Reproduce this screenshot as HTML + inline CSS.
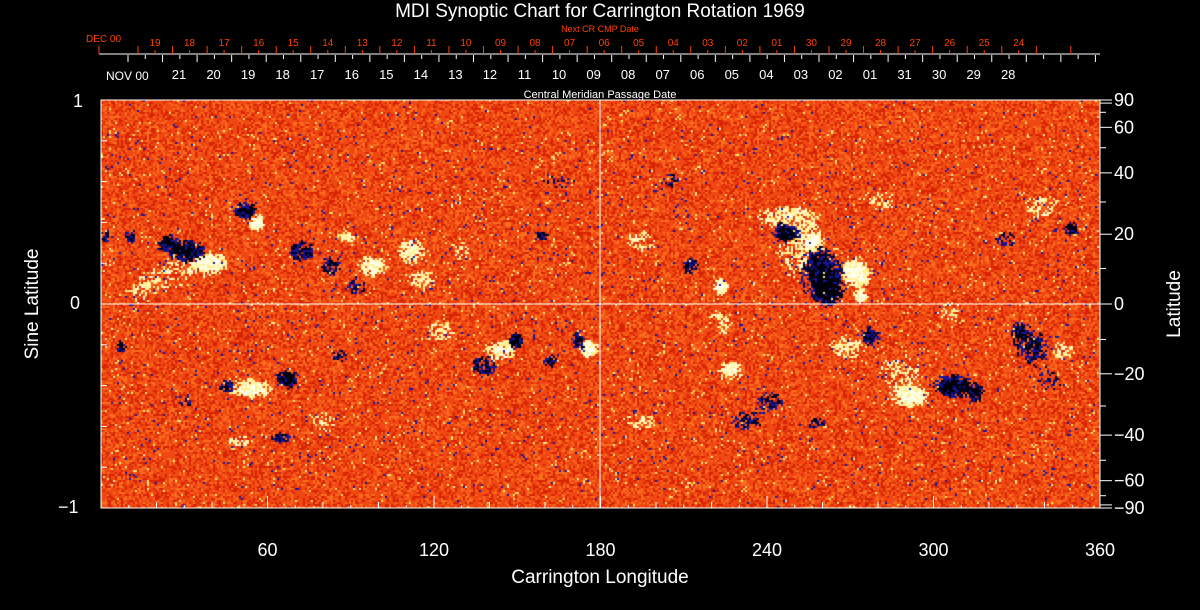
<!DOCTYPE html>
<html><head><style>
html,body{margin:0;padding:0;background:#000;}
svg{display:block;font-family:"Liberation Sans",sans-serif;position:absolute;left:0;top:0;}
canvas{position:absolute;left:101px;top:100px;}
</style></head><body>
<canvas id="c" width="999" height="408"></canvas>
<svg id="s" width="1200" height="610" xmlns="http://www.w3.org/2000/svg">
<g id="ax" stroke="#fff" fill="none" stroke-width="1"></g>
<g id="tx" fill="#fff" font-size="16"></g>
</svg>
<script>
const S="http://www.w3.org/2000/svg";
function el(p,t,a,txt){const e=document.createElementNS(S,t);for(const k in a)e.setAttribute(k,a[k]);if(txt!==undefined)e.textContent=txt;document.getElementById(p).appendChild(e);return e;}
let sd=12345;function r(){sd=(sd*1103515245+12345)%2147483648;return sd/2147483648;}
// blobs: x,y (page coords), sx, sy, amp, type (1=white,-1=black)
const bl=[
[185,250,14,8,1.1,-1],[165,240,6,5,.8,-1],[210,262,12,8,1.0,1],[245,210,8,6,1.1,-1],[256,222,5,6,1.2,1],[300,250,10,8,.8,-1],[330,265,8,8,.7,-1],[355,285,10,8,.6,-1],[372,265,10,8,1.0,1],[410,250,10,10,.8,1],[420,280,12,8,.6,1],[130,235,5,5,.7,-1],[105,235,4,5,.8,-1],[345,235,8,6,.7,1],
[250,388,14,7,1.1,1],[287,378,7,6,1.3,-1],[226,385,6,5,.9,-1],[280,437,8,4,.8,-1],[240,440,10,5,.7,1],[340,355,8,5,.6,-1],[185,400,8,8,.5,-1],[120,345,4,5,.8,-1],[175,270,20,20,.4,1],
[500,350,12,8,.9,1],[482,365,10,8,.8,-1],[515,340,5,5,1.3,-1],[550,360,6,5,.8,-1],[588,348,6,6,1.3,1],[578,340,5,8,.8,-1],[440,330,15,10,.5,1],[540,235,6,4,.8,-1],[460,250,15,15,.4,1],
[785,232,9,7,1.2,-1],[812,240,5,4,1.3,1],[820,272,14,18,1.1,-1],[828,290,8,8,1.3,-1],[855,272,10,10,1.2,1],[860,296,4,4,1.4,1],[800,250,25,30,.5,1],[690,265,6,6,.9,-1],[720,285,5,5,1.3,1],[780,215,25,8,.5,1],
[730,370,10,8,.8,1],[745,420,15,8,.6,-1],[770,400,12,8,.6,-1],[815,422,8,4,.7,-1],[870,335,8,8,.8,-1],[845,345,14,10,.6,1],[952,385,12,8,1.2,-1],[910,396,10,6,1.2,1],[975,392,6,6,1,-1],[900,370,25,20,.45,1],
[1030,345,12,12,.8,-1],[1018,330,6,6,.8,-1],[1062,350,10,8,.6,1],[1070,228,6,5,1,-1],[1040,205,20,12,.5,1],[1005,240,10,8,.6,-1],[880,200,20,12,.45,1],[640,240,16,12,.5,1],[640,420,20,10,.45,1],[670,180,10,8,.5,-1],
[560,180,25,10,.4,-1],[450,200,20,15,.35,1],[950,310,20,15,.4,1],[1050,380,15,15,.4,-1],[720,320,15,15,.45,1],[140,290,15,15,.4,1],[320,420,20,15,.4,1],[900,250,15,15,.3,-1]];
const c=document.getElementById("c"),g=c.getContext("2d");
const im=g.createImageData(999,408),D=im.data;
function set(x,y,R,G,B){for(let dy=0;dy<2;dy++)for(let dx=0;dx<2;dx++){const X=x+dx,Y=y+dy;if(X<999&&Y<408){const i=(Y*999+X)*4;D[i]=R;D[i+1]=G;D[i+2]=B;D[i+3]=255;}}}
for(let y=0;y<408;y+=2)for(let x=0;x<999;x+=2){
 let w=0,b=0;const px=x+101,py=y+100;
 for(const q of bl){const dx=(px-q[0])/q[2],dy=(py-q[1])/q[3];const d=dx*dx+dy*dy;if(d<12){const v=q[4]*Math.exp(-d/2);if(q[5]>0)w+=v;else b+=v;}}
 const n=r();
 let col;
 const vw=w*(0.5+r()),vb=b*(0.5+r());
 if(vb>0.9)col=[0,0,10];
 else if(vb>0.45)col=r()<.5?[20,20,150]:[0,0,30];
 else if(vw>0.9)col=[255,255,235];
 else if(vw>0.45)col=r()<.5?[255,240,140]:[255,250,200];
 else if(n<0.006)col=[20,20,160];
 else if(n<0.02)col=[255,225,110];
 else if(n<0.28)col=[215,35,5];
 else if(n<0.5)col=[250,110,30];
 else col=[240,72,18];
 set(x,y,col[0],col[1],col[2]);
}
// extra small blue speckles near polar-ish / mid areas
g.putImageData(im,0,0);
g.fillStyle="#1818a0";
for(let i=0;i<900;i++){const x=r()*999,y=30+r()*360;g.fillRect(Math.floor(x/2)*2,Math.floor(y/2)*2,2,2);}
g.fillStyle="#ffe890";
for(let i=0;i<900;i++){const x=r()*999,y=30+r()*360;g.fillRect(Math.floor(x/2)*2,Math.floor(y/2)*2,2,2);}
// axes
el("ax","rect",{x:101,y:100,width:999,height:408});
el("ax","line",{x1:600,y1:100,x2:600,y2:508});
el("ax","line",{x1:101,y1:304,x2:1100,y2:304});
el("ax","line",{x1:99,y1:54,x2:1100,y2:54});
for(let i=-5;i<=5;i++){const y=304-i*40.8;el("ax","line",{x1:101,y1:y,x2:i%5==0?113:107,y2:y});}
[["1",73,107],["0",70,309],["\u22121",58,513]].forEach(a=>el("tx","text",{x:a[1],y:a[2],"font-size":18},a[0]));
for(let l=0;l<=360;l+=10){const x=101+l*999/360;el("ax","line",{x1:x,y1:508,x2:x,y2:l%60==0?496:l%20==0?502:505});}
for(let l=60;l<=360;l+=60){el("tx","text",{x:101+l*999/360,y:556,"text-anchor":"middle","font-size":18},l);}
[90,60,40,20,0,-20,-40,-60,-90].forEach(a=>{const y=304-204*Math.sin(a*Math.PI/180);el("tx","text",{x:1114,y:y+6,"font-size":18},a<0?"\u2212"+(-a):a);});
for(let a=-90;a<=90;a+=10){const y=304-204*Math.sin(a*Math.PI/180);el("ax","line",{x1:1100,y1:y,x2:a%20==0||Math.abs(a)==90?1112:1106,y2:y});}
for(let k=0;k<29;k++){const x=128+34.55*k;if(x<1100){el("ax","line",{x1:x,y1:55,x2:x,y2:62});}const m=x+17.3;if(m<1100)el("ax","line",{x1:m,y1:55,x2:m,y2:59});}
const wl=["21","20","19","18","17","16","15","14","13","12","11","10","09","08","07","06","05","04","03","02","01","31","30","29","28"];
wl.forEach((t,i)=>el("tx","text",{x:179+34.55*i,y:79,"text-anchor":"middle","font-size":13},t));
el("tx","text",{x:106,y:80,"font-size":12},"NOV 00");
const rl=["19","18","17","16","15","14","13","12","11","10","09","08","07","06","05","04","03","02","01","30","29","28","27","26","25","24"];
for(let k=0;k<28;k++){const x=138+34.55*k;if(x<=1101){el("ax","line",{x1:x,y1:54,x2:x,y2:46,stroke:"#ff4000"});}}
el("ax","line",{x1:99,y1:54,x2:99,y2:46,stroke:"#ff4000"});
rl.forEach((t,i)=>{const x=155+34.55*i;el("ax","line",{x1:x,y1:54,x2:x,y2:50,stroke:"#ff4000"});el("tx","text",{x:x,y:46,"text-anchor":"middle","font-size":10,fill:"#ff4000"},t);});
el("tx","text",{x:86,y:42,"font-size":10,fill:"#ff4000"},"DEC 00");
el("tx","text",{x:600,y:32,"text-anchor":"middle","font-size":9,fill:"#ff4000"},"Next CR CMP Date");
el("tx","text",{x:600,y:98,"text-anchor":"middle","font-size":11},"Central Meridian Passage Date");
el("tx","text",{x:600,y:17,"text-anchor":"middle","font-size":19},"MDI Synoptic Chart for Carrington Rotation 1969");
el("tx","text",{x:600,y:583,"text-anchor":"middle","font-size":19},"Carrington Longitude");
el("tx","text",{x:38,y:304,"text-anchor":"middle","font-size":19,transform:"rotate(-90 38 304)"},"Sine Latitude");
el("tx","text",{x:1180,y:304,"text-anchor":"middle","font-size":19,transform:"rotate(-90 1180 304)"},"Latitude");
</script>
</body></html>
